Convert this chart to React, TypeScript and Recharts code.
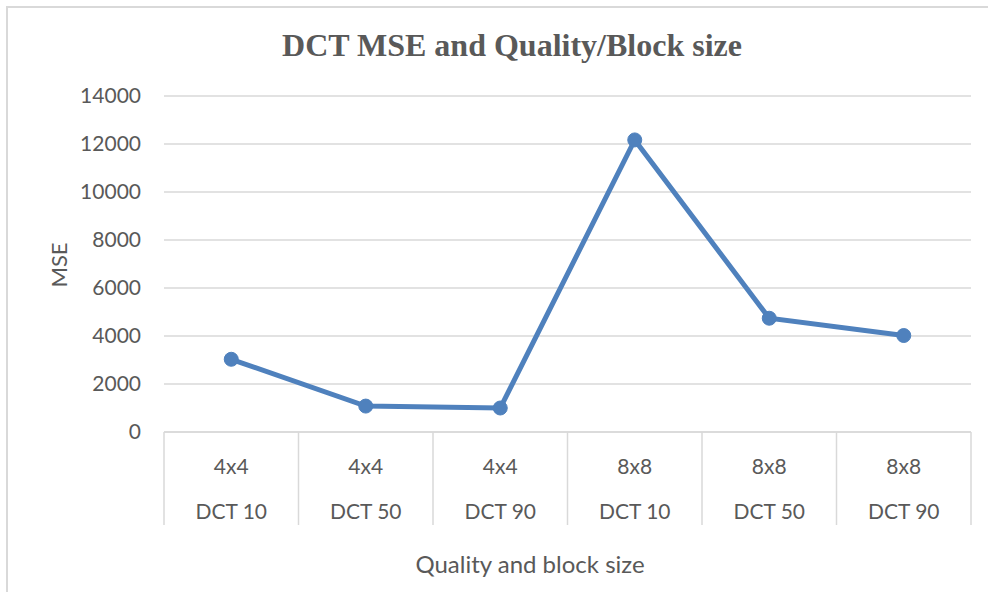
import React from 'react';
import { LineChart, Line, XAxis, YAxis, CartesianGrid, Label } from 'recharts';

const blockSizes = ['4x4', '4x4', '4x4', '8x8', '8x8', '8x8'];
const qualities = ['DCT 10', 'DCT 50', 'DCT 90', 'DCT 10', 'DCT 50', 'DCT 90'];
const mseValues = [3030, 1080, 1000, 12170, 4740, 4020];
const yTicks = [0, 2000, 4000, 6000, 8000, 10000, 12000, 14000];

const data = mseValues.map((v, i) => ({
  key: `${blockSizes[i]} ${qualities[i]}`,
  mse: v,
}));

const W = 988;
const H = 592;
const PLOT_LEFT = 164;
const PLOT_RIGHT = 971;
const HALF = (PLOT_RIGHT - PLOT_LEFT) / blockSizes.length / 2;
const FONT = 'Lato, "Open Sans", sans-serif';
const TEXT = '#595959';
const GRID = '#d9d9d9';

const CatTick = (props: any) => {
  const { x, y, payload } = props;
  const i = payload.index;
  return (
    <g>
      <line x1={x - HALF} y1={y} x2={x - HALF} y2={y + 93} stroke={GRID} strokeWidth={1.5} />
      {i === blockSizes.length - 1 && (
        <line x1={x + HALF} y1={y} x2={x + HALF} y2={y + 93} stroke={GRID} strokeWidth={1.5} />
      )}
      <text x={x} y={y + 33} textAnchor="middle" dominantBaseline="central" fill={TEXT} fontSize={21} fontFamily={FONT}>
        {blockSizes[i]}
      </text>
      <text x={x} y={y + 78} textAnchor="middle" dominantBaseline="central" fill={TEXT} fontSize={21} fontFamily={FONT}>
        {qualities[i]}
      </text>
    </g>
  );
};

export default function App() {
  return (
    <div style={{ position: 'absolute', left: 0, top: 0, width: W, height: H, background: '#fff', overflow: 'hidden' }}>
      <div style={{ position: 'absolute', left: 6, top: 6, width: W, height: H, borderTop: `2px solid ${GRID}`, borderLeft: `2px solid ${GRID}` }} />
      <div
        style={{
          position: 'absolute',
          left: 0,
          top: 25,
          width: 1024,
          textAlign: 'center',
          fontFamily: '"Liberation Serif", "Times New Roman", serif',
          fontWeight: 'bold',
          fontSize: 32,
          color: TEXT,
          lineHeight: '40px',
        }}
      >
        DCT MSE and Quality/Block size
      </div>
      <div style={{ position: 'absolute', left: 0, top: 0 }}>
        <LineChart width={W} height={H} data={data} margin={{ top: 96, right: W - PLOT_RIGHT, bottom: 0, left: 0 }}>
          <CartesianGrid horizontal vertical={false} stroke={GRID} strokeWidth={1.5} />
          <XAxis
            dataKey="key"
            padding={{ left: HALF, right: HALF }}
            height={160}
            tickSize={0}
            tickMargin={0}
            tickLine={false}
            axisLine={{ stroke: GRID, strokeWidth: 1.5 }}
            tick={<CatTick />}
            interval={0}
          >
            <Label
              content={() => (
                <text x={530} y={563} textAnchor="middle" dominantBaseline="central" fill={TEXT} fontSize={24} fontFamily={FONT}>
                  Quality and block size
                </text>
              )}
            />
          </XAxis>
          <YAxis
            width={PLOT_LEFT}
            domain={[0, 14000]}
            ticks={yTicks}
            axisLine={false}
            tickLine={false}
            tickSize={0}
            tickMargin={23}
            tick={{ fill: TEXT, fontSize: 21, fontFamily: FONT }}
          >
            <Label
              content={() => (
                <text x={58} y={265} transform="rotate(-90 58 265)" textAnchor="middle" dominantBaseline="central" fill={TEXT} fontSize={22} fontFamily={FONT}>
                  MSE
                </text>
              )}
            />
          </YAxis>
          <Line
            type="linear"
            dataKey="mse"
            stroke="#4f81bd"
            strokeWidth={5}
            dot={{ r: 7, fill: '#4f81bd', stroke: '#4f81bd', strokeWidth: 1 }}
            isAnimationActive={false}
          />
        </LineChart>
      </div>
    </div>
  );
}
